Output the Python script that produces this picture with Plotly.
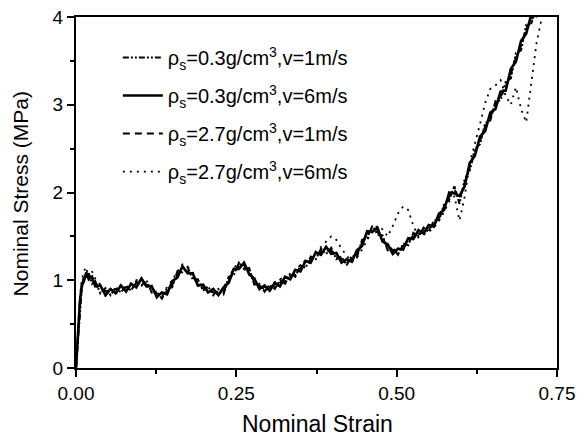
import plotly.graph_objects as go

strain = [0, 0.003, 0.006, 0.009, 0.012, 0.016, 0.020, 0.025, 0.030,
          0.038, 0.046, 0.054, 0.062, 0.070, 0.078, 0.086, 0.094, 0.102, 0.110,
          0.118, 0.126, 0.134, 0.142, 0.150, 0.158, 0.166, 0.174, 0.182, 0.190,
          0.198, 0.206, 0.214, 0.222, 0.230, 0.238, 0.246, 0.254, 0.262, 0.270,
          0.278, 0.286, 0.294, 0.302, 0.310, 0.318, 0.326, 0.334, 0.342, 0.350,
          0.358, 0.366, 0.374, 0.382, 0.390, 0.398, 0.406, 0.414, 0.422, 0.430,
          0.438, 0.446, 0.454, 0.462, 0.470, 0.478, 0.486, 0.494, 0.502, 0.510,
          0.518, 0.526, 0.534, 0.542, 0.550, 0.558, 0.566, 0.574, 0.582, 0.590,
          0.598, 0.606, 0.614, 0.622, 0.630, 0.638, 0.646, 0.654, 0.662, 0.670,
          0.678, 0.686, 0.694, 0.702, 0.710, 0.718, 0.726]

stress_03_v1 = [0, 0.30, 0.66, 0.90, 1.02, 1.04, 1.08, 0.96, 0.99,
                0.85, 0.91, 0.83, 0.92, 0.86, 0.94, 0.88, 0.99, 0.94, 1.00,
                0.86, 0.87, 0.79, 0.91, 0.92, 1.10, 1.09, 1.15, 1.01, 1.01,
                0.88, 0.93, 0.83, 0.90, 0.84, 1.04, 1.06, 1.20, 1.13, 1.14,
                0.95, 0.96, 0.87, 0.95, 0.90, 1.00, 0.96, 1.08, 1.04, 1.17,
                1.14, 1.27, 1.24, 1.36, 1.30, 1.37, 1.24, 1.27, 1.17, 1.28,
                1.26, 1.46, 1.48, 1.62, 1.52, 1.51, 1.34, 1.37, 1.29, 1.42,
                1.40, 1.54, 1.49, 1.60, 1.55, 1.68, 1.68, 1.87, 1.92, 2.07,
                1.87, 2.15, 2.25, 2.50, 2.55, 2.79, 2.82, 3.04, 3.05, 3.26,
                3.30, 3.59, 3.62, 3.91, 3.93, 4.10, 4.15]

stress_03_v6 = [0, 0.40, 0.75, 0.95, 0.98, 1.09, 1.01, 1.04, 0.93,
                0.94, 0.83, 0.90, 0.85, 0.94, 0.87, 0.96, 0.92, 1.02, 0.93,
                0.93, 0.81, 0.86, 0.84, 0.99, 1.03, 1.16, 1.08, 1.08, 0.94,
                0.95, 0.86, 0.90, 0.83, 0.92, 0.97, 1.13, 1.13, 1.20, 1.07,
                1.02, 0.90, 0.94, 0.88, 0.97, 0.93, 1.04, 1.01, 1.12, 1.10,
                1.22, 1.20, 1.32, 1.29, 1.38, 1.30, 1.31, 1.20, 1.24, 1.21,
                1.34, 1.39, 1.56, 1.55, 1.60, 1.44, 1.41, 1.30, 1.36, 1.35,
                1.48, 1.47, 1.57, 1.53, 1.63, 1.61, 1.76, 1.80, 2.00, 1.99,
                1.96, 2.07, 2.34, 2.42, 2.64, 2.70, 2.91, 2.95, 3.15, 3.16,
                3.41, 3.49, 3.73, 3.81, 4.03, 4.01, 4.10]

stress_27_v1 = [0, 0.35, 0.70, 0.91, 1.04, 1.02, 1.06, 1.01, 0.95,
                0.89, 0.88, 0.85, 0.90, 0.88, 0.92, 0.90, 0.97, 0.99, 0.95,
                0.91, 0.85, 0.82, 0.88, 0.95, 1.05, 1.13, 1.10, 1.04, 0.98,
                0.91, 0.90, 0.86, 0.87, 0.87, 0.99, 1.09, 1.17, 1.16, 1.11,
                0.98, 0.94, 0.90, 0.92, 0.93, 0.97, 0.99, 1.05, 1.07, 1.14,
                1.17, 1.24, 1.27, 1.33, 1.33, 1.34, 1.27, 1.24, 1.20, 1.25,
                1.29, 1.43, 1.51, 1.59, 1.55, 1.48, 1.37, 1.34, 1.32, 1.39,
                1.43, 1.51, 1.52, 1.57, 1.58, 1.65, 1.71, 1.84, 1.95, 2.03,
                1.93, 2.11, 2.29, 2.46, 2.59, 2.75, 2.86, 3.00, 3.09, 3.21,
                3.35, 3.54, 3.67, 3.86, 3.97, 4.06, 4.12]

stress_27_v6 = [0, 0.45, 0.80, 1.00, 1.10, 1.15, 0.99, 1.10, 1.02,
                0.95, 0.82, 0.92, 0.84, 0.95, 0.86, 0.97, 1.00, 1.03, 0.92,
                0.94, 0.80, 0.86, 0.92, 1.00, 1.10, 1.18, 1.15, 1.09, 0.94,
                0.96, 0.86, 0.90, 0.83, 0.92, 1.02, 1.14, 1.20, 1.13, 1.06,
                1.03, 0.90, 0.94, 0.88, 0.98, 1.01, 1.04, 1.00, 1.13, 1.17,
                1.23, 1.19, 1.33, 1.38, 1.44, 1.50, 1.46, 1.36, 1.28, 1.21,
                1.26, 1.35, 1.46, 1.55, 1.62, 1.58, 1.50, 1.62, 1.76, 1.84,
                1.80, 1.62, 1.50, 1.52, 1.55, 1.60, 1.68, 1.78, 1.90, 1.96,
                1.68, 1.95, 2.34, 2.55, 2.78, 3.02, 3.18, 3.22, 3.28, 3.10,
                3.00, 3.20, 2.95, 2.80, 3.25, 3.70, 3.98]

names = ["ρ<sub>s</sub>=0.3g/cm<sup>3</sup>,v=1m/s",
         "ρ<sub>s</sub>=0.3g/cm<sup>3</sup>,v=6m/s",
         "ρ<sub>s</sub>=2.7g/cm<sup>3</sup>,v=1m/s",
         "ρ<sub>s</sub>=2.7g/cm<sup>3</sup>,v=6m/s"]

x_ticks = [0, 0.25, 0.5, 0.75]
x_ticktext = ["0.00", "0.25", "0.50", "0.75"]
y_ticks = [0, 1, 2, 3, 4]
x_title = "Nominal Strain"
y_title = "Nominal Stress (MPa)"

series = [stress_03_v1, stress_03_v6, stress_27_v1, stress_27_v6]
dashes = ["6px,2px,2px,2px,2px,2px", "solid", "7px,5px", "2px,5px"]
widths = [2.0, 2.6, 2.0, 1.8]

FONT = "Liberation Sans, Arial, Helvetica, sans-serif"

fig = go.Figure()
for i, (ys, nm) in enumerate(zip(series, names)):
    fig.add_trace(go.Scatter(
        x=strain, y=ys, mode="lines", name=nm, legendgroup=f"g{i}",
        line=dict(color="black", width=widths[i], dash=dashes[i]),
    ))

axis_common = dict(
    showline=True, linewidth=2, linecolor="black", mirror=True,
    ticks="outside", ticklen=7, tickwidth=1.5, tickcolor="black",
    showgrid=False, zeroline=False, automargin=False,
    tickfont=dict(family=FONT, size=19, color="black"),
)

fig.update_xaxes(
    range=[0, 0.75], tickvals=x_ticks, ticktext=x_ticktext,
    minor=dict(ticks="outside", ticklen=4, dtick=0.125, tick0=0,
               tickcolor="black", tickwidth=1.5, showgrid=False),
    **axis_common,
)
fig.update_yaxes(
    range=[0, 4], tickvals=y_ticks,
    minor=dict(ticks="outside", ticklen=4, dtick=0.5, tick0=0,
               tickcolor="black", tickwidth=1.5, showgrid=False),
    **axis_common,
)

fig.add_annotation(text=x_title, xref="paper", yref="paper", x=0.503, y=-0.16,
                   xanchor="center", yanchor="middle", showarrow=False,
                   font=dict(family=FONT, size=23, color="black"))
fig.add_annotation(text=y_title, xref="paper", yref="paper", x=-0.116, y=0.495,
                   xanchor="center", yanchor="middle", showarrow=False, textangle=-90,
                   font=dict(family=FONT, size=21, color="black"))

fig.update_layout(
    width=584, height=436,
    margin=dict(l=76, r=27, t=17, b=68),
    plot_bgcolor="white", paper_bgcolor="white",
    showlegend=True,
    legend=dict(x=0.087, y=0.94, xanchor="left", yanchor="top",
                bgcolor="rgba(0,0,0,0)", borderwidth=0,
                tracegroupgap=9, traceorder="grouped", itemwidth=40,
                font=dict(family=FONT, size=20, color="black")),
)

fig.write_html("out.html")
